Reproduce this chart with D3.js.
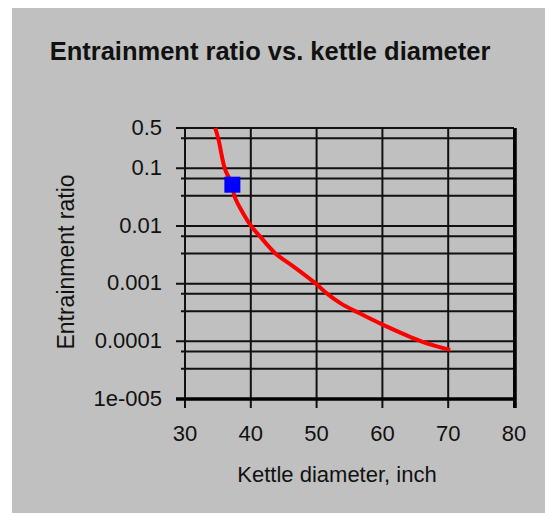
<!DOCTYPE html>
<html>
<head>
<meta charset="utf-8">
<script src="https://cdn.jsdelivr.net/npm/d3@7"></script>
<style>
  body { margin: 0; background: #fff; }
  text { font-family: "Liberation Sans", Arial, sans-serif; fill: #111; }
</style>
</head>
<body>
<div id="chart"></div>
<script>
// Chart data
var diameter = [34.6, 35.1, 36.1, 37.2, 37.5, 38.8, 40.1, 41.4, 43.7, 46.5, 49.8, 51.5, 53.6, 56.3, 60.1, 66.0, 70.3];
var ratio = [0.5, 0.314, 0.095, 0.052, 0.0334, 0.0168, 0.0098, 0.0066, 0.00338, 0.00198, 0.00102, 0.000684, 0.000459, 0.000315, 0.000193, 0.000099, 0.000071];
var pointX = [37.2];
var pointY = [0.052];

var xTicks = [30, 40, 50, 60, 70, 80];
var yTicks = [0.5, 0.1, 0.01, 0.001, 0.0001, 0.00001];
var yTickLabels = ["0.5", "0.1", "0.01", "0.001", "0.0001", "1e-005"];
var yMinor = [0.3333, 0.0667, 0.0333, 0.00667, 0.00333, 0.000667, 0.000333, 0.0000667, 0.0000333];

// SVG area
var svgWidth = 545;
var svgHeight = 513;
var plot = { left: 185, right: 514, top: 128, bottom: 399 };

var svg = d3.select("#chart")
  .append("svg")
  .attr("width", svgWidth)
  .attr("height", svgHeight);

// gray panel
svg.append("rect")
  .attr("x", 12).attr("y", 8)
  .attr("width", svgWidth - 12).attr("height", svgHeight - 8)
  .attr("fill", "#c0c0c0");

var xScale = d3.scaleLinear().domain([30, 80]).range([plot.left, plot.right]);
var yScale = d3.scaleLog().domain([0.00001, 0.5]).range([plot.bottom, plot.top]);

// title
svg.append("text")
  .attr("x", 270).attr("y", 60)
  .attr("text-anchor", "middle")
  .style("font-size", "25.5px")
  .style("font-weight", "bold")
  .text("Entrainment ratio vs. kettle diameter");

var grid = svg.append("g");

// minor horizontal grid + short ticks
yMinor.forEach(function(v) {
  grid.append("line")
    .attr("x1", plot.left - 4).attr("x2", plot.right)
    .attr("y1", yScale(v)).attr("y2", yScale(v))
    .attr("stroke", "#111").attr("stroke-width", 2);
});

// major horizontal grid + ticks + labels
yTicks.forEach(function(v, i) {
  grid.append("line")
    .attr("x1", plot.left - 9).attr("x2", plot.right)
    .attr("y1", yScale(v)).attr("y2", yScale(v))
    .attr("stroke", "#111").attr("stroke-width", 2);
  svg.append("text")
    .attr("x", 162).attr("y", yScale(v) - 1)
    .attr("dy", "0.35em")
    .attr("text-anchor", "end")
    .style("font-size", "22px")
    .text(yTickLabels[i]);
});

// vertical grid + ticks + labels
xTicks.forEach(function(v) {
  grid.append("line")
    .attr("x1", xScale(v)).attr("x2", xScale(v))
    .attr("y1", plot.top).attr("y2", plot.bottom + 9)
    .attr("stroke", "#111").attr("stroke-width", 2);
  svg.append("text")
    .attr("x", xScale(v)).attr("y", 441)
    .attr("text-anchor", "middle")
    .style("font-size", "22px")
    .text(v);
});

// heavier frame on bottom and right
grid.append("line")
  .attr("x1", plot.left - 9).attr("x2", plot.right + 2)
  .attr("y1", plot.bottom).attr("y2", plot.bottom)
  .attr("stroke", "#000").attr("stroke-width", 3.5);
grid.append("line")
  .attr("x1", plot.right + 1).attr("x2", plot.right + 1)
  .attr("y1", plot.top).attr("y2", plot.bottom + 9)
  .attr("stroke", "#000").attr("stroke-width", 3.5);

// axis titles
svg.append("text")
  .attr("x", 337).attr("y", 482)
  .attr("text-anchor", "middle")
  .style("font-size", "22px")
  .text("Kettle diameter, inch");

svg.append("text")
  .attr("transform", "translate(74, 262) rotate(-90)")
  .attr("text-anchor", "middle")
  .style("font-size", "23px")
  .text("Entrainment ratio");

// red curve
var curveData = diameter.map(function(d, i) { return { x: d, y: ratio[i] }; });
var lineFunction = d3.line()
  .x(function(d) { return xScale(d.x); })
  .y(function(d) { return yScale(d.y); })
  .curve(d3.curveCatmullRom.alpha(0.5));

svg.append("path")
  .attr("d", lineFunction(curveData))
  .attr("stroke", "#ff0000")
  .attr("stroke-width", 4)
  .attr("fill", "none");

// blue design point
svg.selectAll(".pt")
  .data(pointX)
  .enter()
  .append("rect")
  .attr("class", "pt")
  .attr("x", function(d) { return xScale(d) - 8; })
  .attr("y", function(d, i) { return yScale(pointY[i]) - 8; })
  .attr("width", 16).attr("height", 16)
  .attr("fill", "#0000ff");
</script>
</body>
</html>
